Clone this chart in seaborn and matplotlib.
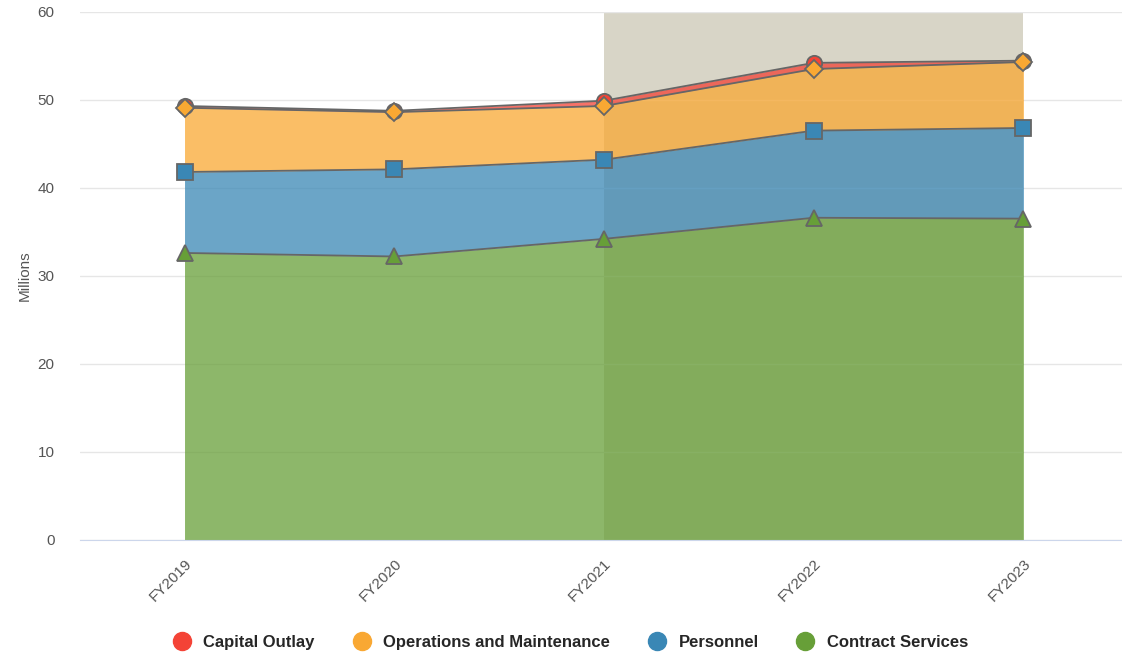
import numpy as np
import pandas as pd
import seaborn as sns
import matplotlib.pyplot as plt
from matplotlib.lines import Line2D

# Dados (milhões)
anos = ["FY2019", "FY2020", "FY2021", "FY2022", "FY2023"]
contract_services = [32.6, 32.2, 34.2, 36.6, 36.5]
personnel = [9.2, 9.9, 9.0, 9.9, 10.3]
operations_maintenance = [7.3, 6.5, 6.1, 7.0, 7.5]
capital_outlay = [0.2, 0.15, 0.6, 0.7, 0.15]

series = ["Contract Services", "Personnel", "Operations and Maintenance", "Capital Outlay"]
valores = [contract_services, personnel, operations_maintenance, capital_outlay]
cores = ["#679f38", "#3a87b5", "#f9a833", "#f44336"]
marcadores = ["^", "s", "D", "o"]
tamanhos = [12, 11, 9, 11]

x = np.arange(len(anos))
acumulado = np.cumsum(np.array(valores), axis=0)

# DataFrame com os totais acumulados (para as linhas)
linhas = []
for i, nome in enumerate(series):
    for j, ano in enumerate(anos):
        linhas.append([nome, j, acumulado[i][j]])
df = pd.DataFrame(linhas, columns=["Serie", "Pos", "Total"])

sns.set_style("white")
plt.rcParams["font.family"] = ["Liberation Sans", "DejaVu Sans"]

fig, ax = plt.subplots(figsize=(11.22, 6.56), dpi=100)
fig.subplots_adjust(left=0.071, right=1.0, top=0.982, bottom=0.177)

# Faixa de projeção (FY2021 - FY2023)
ax.axvspan(2, 4, ymin=0, ymax=1, color="#d8d5c7", zorder=0, lw=0)

# Áreas empilhadas
base = np.zeros(len(anos))
for i, nome in enumerate(series):
    ax.fill_between(x, base, acumulado[i], color=cores[i], alpha=0.75, lw=0, zorder=2)
    base = acumulado[i]

# Linhas e marcadores
for i, nome in enumerate(series):
    sns.lineplot(data=df[df["Serie"] == nome], x="Pos", y="Total", ax=ax,
                 color="#666666", lw=1.3, marker=marcadores[i], markersize=tamanhos[i],
                 markerfacecolor=cores[i], markeredgecolor="#666666", markeredgewidth=1.3,
                 zorder=3 + (3 - i) * 0.1, legend=False)

ax.set_xlim(-0.5, 4.47)
ax.set_ylim(0, 60)
ax.set_yticks(range(0, 61, 10))
ax.set_xticks(x)
ax.set_xticklabels(anos, rotation=45, ha="right", rotation_mode="anchor")
ax.tick_params(axis="both", colors="#555555", labelsize=11, length=0)
ax.tick_params(axis="x", pad=12)
ax.tick_params(axis="y", pad=18)
ax.grid(axis="y", color="#e6e6e6", lw=1, zorder=1)
ax.set_axisbelow(True)
for lado in ["top", "right", "left"]:
    ax.spines[lado].set_visible(False)
ax.spines["bottom"].set_color("#ccd6eb")
ax.set_xlabel("")
ax.set_ylabel("Millions", color="#555555", fontsize=11)

# Legenda na parte inferior
ordem = [3, 2, 1, 0]
handles = [Line2D([0], [0], marker="o", ls="", markersize=13, markerfacecolor=cores[i],
                  markeredgecolor=cores[i]) for i in ordem]
fig.legend(handles, [series[i] for i in ordem], loc="lower center", ncol=4,
           bbox_to_anchor=(0.505, -0.013), frameon=False, handletextpad=0.3, columnspacing=1.8,
           prop={"weight": "bold", "size": 12})

plt.savefig("out.png", dpi=100)
